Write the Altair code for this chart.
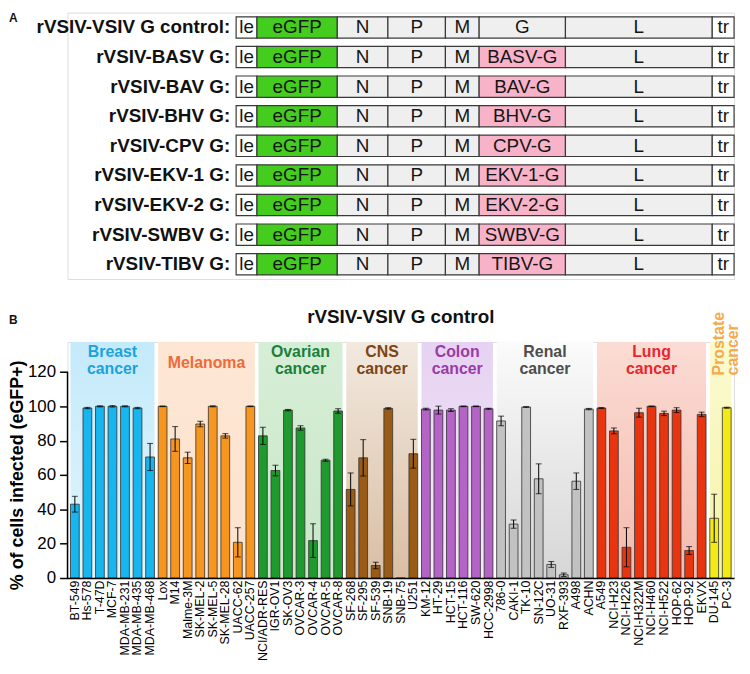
import altair as alt
import pandas as pd

FONT = "Liberation Sans"

# ---------------- Panel A data ----------------
constructs = ["rVSIV-VSIV G control:", "rVSIV-BASV G:", "rVSIV-BAV G:", "rVSIV-BHV G:",
              "rVSIV-CPV G:", "rVSIV-EKV-1 G:", "rVSIV-EKV-2 G:", "rVSIV-SWBV G:", "rVSIV-TIBV G:"]
g_names = ["G", "BASV-G", "BAV-G", "BHV-G", "CPV-G", "EKV-1-G", "EKV-2-G", "SWBV-G", "TIBV-G"]
segment_names = ["le", "eGFP", "N", "P", "M", "G", "L", "tr"]
segment_len = [21, 81, 51, 58, 34, 87, 148, 22]

# ---------------- Panel B data ----------------
group_names = ["Breast\ncancer", "Melanoma", "Ovarian\ncancer", "CNS\ncancer",
               "Colon\ncancer", "Renal\ncancer", "Lung\ncancer", "Prostate\ncancer"]
breast_lines = ["BT-549", "Hs-578", "T-47D", "MCF-7", "MDA-MB-231", "MDA-MB-435", "MDA-MB-468"]
breast_vals = [43, 99, 100, 100, 100, 99, 70.5]
breast_err = [4.6, 0.4, 0.3, 0.4, 0.3, 0.4, 7.9]
melanoma_lines = ["Lox", "M14", "Malme-3M", "SK-MEL-2", "SK-MEL-5", "SK-MEL-28", "UACC-62", "UACC-257"]
melanoma_vals = [100, 81, 70, 89.7, 100, 82.8, 20.8, 100]
melanoma_err = [0.2, 7.2, 3.3, 1.6, 0.3, 1.3, 8.5, 0.2]
ovarian_lines = ["NCI/ADR-RES", "IGR-OV1", "SK-OV3", "OVCAR-3", "OVCAR-4", "OVCAR-5", "OVCAR-8"]
ovarian_vals = [82.8, 62.6, 97.8, 87.4, 21.8, 68.6, 97.3]
ovarian_err = [5, 3.1, 0.4, 1.3, 9.8, 0.6, 1.3]
cns_lines = ["SF-268", "SF-295", "SF-539", "SNB-19", "SNB-75", "U251"]
cns_vals = [51.6, 70, 7.3, 98.8, 0, 72.4]
cns_err = [9.6, 10.6, 1.9, 0.4, 0, 8.4]
colon_lines = ["KM-12", "HT-29", "HCT-15", "HCT-116", "SW-620", "HCC-2998"]
colon_vals = [98.4, 97.8, 97.8, 100, 100, 98.6]
colon_err = [0.5, 2.3, 0.8, 0.2, 0.2, 0.3]
renal_lines = ["786-0", "CAKI-1", "TK-10", "SN-12C", "UO-31", "RXF-393", "A498", "ACHN"]
renal_vals = [91.5, 31.4, 99.6, 57.8, 7.9, 1.9, 56.4, 98.4]
renal_err = [2.8, 2.4, 0.2, 8.7, 1.7, 1.0, 4.8, 0.4]
lung_lines = ["A549", "NCI-H23", "NCI-H226", "NCI-H322M", "NCI-H460", "NCI-H522", "HOP-62", "HOP-92", "EKVX"]
lung_vals = [99, 85.7, 17.9, 96.3, 100, 95.9, 97.8, 16, 95.3]
lung_err = [0.3, 1.7, 11.4, 2.6, 0.2, 1.3, 1.4, 2.3, 1.3]
prostate_lines = ["DU-145", "PC-3"]
prostate_vals = [34.8, 99.2]
prostate_err = [14, 0.3]

bar_colors = ["#17b6ef", "#f7961f", "#1f9a2e", "#9a5b17", "#b463c6", "#c2c2c2", "#e8340f", "#f2ea17"]
label_colors = ["#1ba3dc", "#ef6a3a", "#1b7f3b", "#7d4414", "#9b3aa5", "#4d4d4d", "#e8262b", "#f7aa4a"]
band_top = ["#c4eafa", "#fde6d3", "#d6eed6", "#f2e9df", "#e6d2f2", "#fbfbfb", "#fbdcd4", "#fbfad0"]
band_bottom = ["#e3f5fd", "#fbe3cf", "#c9e7c9", "#d9bea4", "#f3eaf7", "#d6d6d6", "#f4b9ad", "#f5f3a8"]

# ---------------- layout sizes ----------------
W = 672          # plot width of both panels
LEFT_A = 170     # space for construct names in panel A

# ---------------- build panel A ----------------
EGFP = "#44cc1f"
PINK = "#f8b3c9"
GREY = "#efefef"
STROKE = "#3a3a3a"
rowsA = []
for ci, (lab, gl) in enumerate(zip(constructs, g_names)):
    start = 0
    for seg, ln in zip(segment_names, segment_len):
        end = start + ln
        if seg == "G":
            text, fill = gl, (GREY if ci == 0 else PINK)
        elif seg == "eGFP":
            text, fill = seg, EGFP
        elif seg in ("le", "tr"):
            text, fill = seg, "#ffffff"
        else:
            text, fill = seg, GREY
        rowsA.append(dict(construct=lab, seg=seg, start=start, end=end,
                          mid=(start + end) / 2, text=text, fill=fill))
        start = end
dfA = pd.DataFrame(rowsA)

xA = alt.Scale(domain=[-LEFT_A, W - LEFT_A], nice=False, zero=False)
yA = alt.Scale(paddingInner=0.28, paddingOuter=0.14)
yAenc = alt.Y("construct:N", sort=constructs, scale=yA, axis=None)

baseA = alt.Chart(dfA)
rectsA = baseA.mark_rect(stroke=STROKE, strokeWidth=1.2).encode(
    x=alt.X("start:Q", scale=xA, axis=None), x2="end:Q", y=yAenc,
    fill=alt.Fill("fill:N", scale=None))
textA = baseA.mark_text(font=FONT, fontSize=19, color="#151515", baseline="middle").encode(
    x=alt.X("mid:Q", scale=xA, axis=None), y=yAenc, text="text:N")
labelsA = alt.Chart(pd.DataFrame({"construct": constructs})).mark_text(
    font=FONT, fontSize=19, fontWeight="bold", align="right", baseline="middle", dx=-6, color="#111"
).encode(x=alt.datum(0), y=yAenc, text="construct:N")
letterA = alt.Chart(pd.DataFrame({"t": ["A"]})).mark_text(
    font=FONT, fontSize=12, fontWeight="bold", align="left", baseline="top", color="#111"
).encode(x=alt.value(-59), y=alt.value(0), text="t:N")
panelA = alt.layer(rectsA, textA, labelsA, letterA).properties(width=W, height=268.6)

# ---------------- build panel B ----------------
all_lines = [breast_lines, melanoma_lines, ovarian_lines, cns_lines, colon_lines,
             renal_lines, lung_lines, prostate_lines]
all_vals = [breast_vals, melanoma_vals, ovarian_vals, cns_vals, colon_vals,
            renal_vals, lung_vals, prostate_vals]
all_err = [breast_err, melanoma_err, ovarian_err, cns_err, colon_err,
           renal_err, lung_err, prostate_err]

rowsB = []
for gi, (ls, vs, es) in enumerate(zip(all_lines, all_vals, all_err)):
    for l, v, e in zip(ls, vs, es):
        rowsB.append(dict(group=group_names[gi], line=l, value=v, err=e,
                          lo=v - e, hi=min(v + e, 100.5), barcolor=bar_colors[gi]))
dfB = pd.DataFrame(rowsB)
lines = list(dfB["line"])

P_IN = 0.3
P_OUT = 0.235
xB = alt.Scale(domain=lines, paddingInner=P_IN, paddingOuter=P_OUT)
yB = alt.Scale(domain=[0, 137.5], nice=False, zero=True)
y_ticks = [0, 20, 40, 60, 80, 100, 120]
step = W / (len(lines) - P_IN + 2 * P_OUT)
gap = P_IN * step

xaxis = alt.Axis(labelAngle=270, labelFontSize=12.5, labelFont=FONT, labelColor="black",
                 ticks=False, domainColor="black", domainWidth=1.5, labelPadding=2,
                 labelOverlap=False, grid=False, title=None)
YTITLE = "% of cells infected (eGFP+)"
yaxis = alt.Axis(values=y_ticks, title=YTITLE, domain=False, tickSize=8, tickWidth=1.5,
                 tickColor="black", labelFontSize=17, labelColor="black", labelFont=FONT,
                 labelPadding=4, labelOverlap=False, labelFlush=False,
                 titleFontSize=18, titleFont=FONT, titleFontWeight="bold",
                 titleX=-50, titleY=134, titleAngle=270, titleAlign="center",
                 titleBaseline="middle", grid=False, titleColor="black")

layersB = []
# shaded backgrounds
for gi, ls in enumerate(all_lines):
    bg = pd.DataFrame({"first": [ls[0]], "last": [ls[-1]]})
    grad = {"gradient": "linear", "x1": 0, "y1": 0, "x2": 0, "y2": 1,
            "stops": [{"offset": 0, "color": band_top[gi]},
                      {"offset": 1, "color": band_bottom[gi]}]}
    layersB.append(alt.Chart(bg).mark_rect(fill=grad).encode(
        x=alt.X("first:N", sort=lines, scale=xB, axis=xaxis, bandPosition=0),
        x2=alt.X2("last:N", bandPosition=1),
        y=alt.Y(datum=137.5, scale=yB, axis=yaxis), y2=alt.datum(0)))

bars = alt.Chart(dfB).mark_bar(stroke="#333333", strokeWidth=0.8).encode(
    x=alt.X("line:N", sort=lines, scale=xB, axis=xaxis),
    y=alt.Y("value:Q", scale=yB, axis=yaxis),
    fill=alt.Fill("barcolor:N", scale=None))
layersB.append(bars)

dfErr = dfB[dfB["err"] > 0]
errx = alt.X("line:N", sort=lines, scale=xB, axis=xaxis)
layersB.append(alt.Chart(dfErr).mark_rule(color="black", strokeWidth=1).encode(
    x=errx, y=alt.Y("lo:Q", scale=yB, axis=yaxis), y2="hi:Q"))
layersB.append(alt.Chart(dfErr).mark_tick(color="black", size=6, thickness=1).encode(
    x=errx, y=alt.Y("lo:Q", scale=yB, axis=yaxis)))
layersB.append(alt.Chart(dfErr).mark_tick(color="black", size=6, thickness=1).encode(
    x=errx, y=alt.Y("hi:Q", scale=yB, axis=yaxis)))

# y-axis line from 0 to 120
layersB.append(alt.Chart(pd.DataFrame({"lo": [y_ticks[0]], "hi": [y_ticks[-1]]})).mark_rule(
    color="black", strokeWidth=1.5).encode(
    x=alt.value(0), y=alt.Y("lo:Q", scale=yB, axis=yaxis), y2="hi:Q"))

# group labels (centered over each group)
for gi, ls in enumerate(all_lines[:-1]):
    n = len(ls)
    label = group_names[gi]
    two_lines = "\n" in label
    bp, ddx = (0.5, 0) if n % 2 == 1 else (0, -gap / 2)
    ddy = -13 if two_lines else -2
    lab_df = pd.DataFrame({"label": [label], "line": [ls[n // 2]]})
    layersB.append(alt.Chart(lab_df).mark_text(
        font=FONT, fontSize=16, fontWeight="bold", lineBreak="\n", lineHeight=17,
        baseline="middle", align="center", dx=ddx, dy=ddy, color=label_colors[gi]).encode(
        x=alt.X("line:N", sort=lines, scale=xB, axis=xaxis, bandPosition=bp),
        y=alt.Y(datum=124.2, scale=yB, axis=yaxis), text="label:N"))
# prostate rotated label
pr = pd.DataFrame({"label": [group_names[-1]], "line": [prostate_lines[0]]})
layersB.append(alt.Chart(pr).mark_text(
    font=FONT, fontSize=16, fontWeight="bold", lineBreak="\n", lineHeight=15,
    baseline="middle", align="left", angle=270, color=label_colors[-1]).encode(
    x=alt.X("line:N", sort=lines, scale=xB, axis=xaxis, bandPosition=1),
    y=alt.Y(datum=118, scale=yB, axis=yaxis), text="label:N"))

# title and panel letter
layersB.append(alt.Chart(pd.DataFrame({"t": ["rVSIV-VSIV G control"]})).mark_text(
    font=FONT, fontSize=19, fontWeight="bold", baseline="middle", align="center", color="#111"
).encode(x=alt.value(W / 2), y=alt.value(-25), text="t:N"))
layersB.append(alt.Chart(pd.DataFrame({"t": ["B"]})).mark_text(
    font=FONT, fontSize=12, fontWeight="bold", baseline="top", align="left", color="#111"
).encode(x=alt.value(-59), y=alt.value(-27), text="t:N"))

panelB = alt.layer(*layersB).properties(width=W, height=238)

chart = alt.vconcat(panelA, panelB, spacing=27).properties(padding=0).configure_view(
    stroke=None).configure(background="white")
chart.save("out.html", embed_options={"renderer": "svg", "actions": False})
